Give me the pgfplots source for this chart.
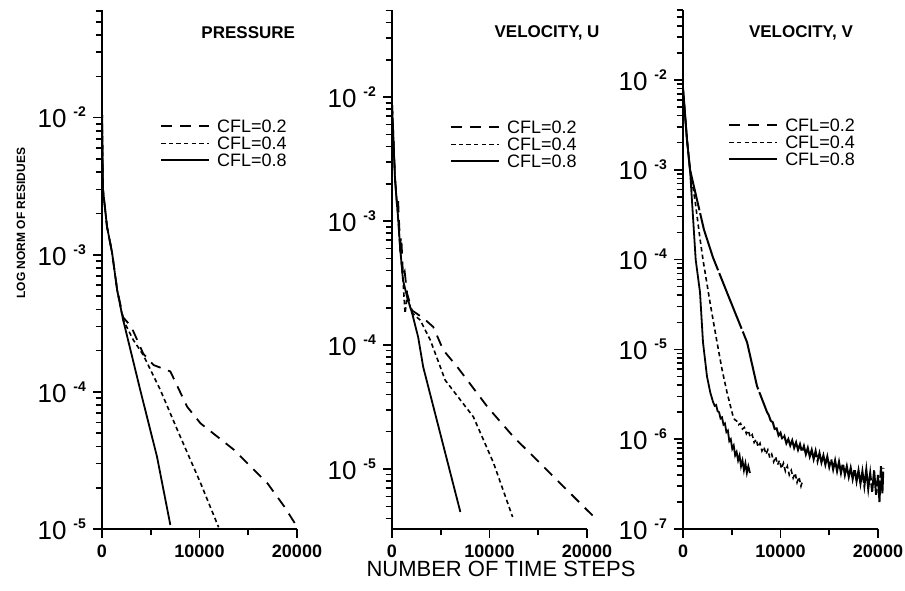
\documentclass[border=0pt]{standalone}
\usepackage{pgfplots}
\pgfplotsset{compat=1.18}
\usepackage{fontspec}
\setmainfont{Liberation Sans}

\newcommand{\ex}[1]{10\hspace{3.5pt}\raisebox{0.42em}{\fontsize{7}{7}\selectfont\bfseries -#1}}

\tikzset{
  c2/.style={line width=0.9pt, dash pattern=on 5.5pt off 4pt},
  c4/.style={line width=0.8pt, dash pattern=on 2.2pt off 1.6pt},
  c8/.style={line width=0.9pt},
}

\pgfplotsset{
  every axis/.append style={
    scale only axis, width=97.5pt, height=259.5pt,
    xmin=0, xmax=20000,
    axis lines*=left, axis line style={line width=1pt},
    tick align=outside, tick style={line width=0.8pt, black},
    major tick length=4.5pt, minor tick length=3.2pt,
    xtick={0,10000,20000}, xticklabels={0,10000,20000},
    minor xtick={5000,15000},
    scaled x ticks=false,
    xticklabel style={font=\fontsize{9}{9}\selectfont\bfseries},
    yticklabel style={font=\fontsize{13}{13}\selectfont},
    clip=false,
    legend style={draw=none, fill=none, font=\fontsize{9}{9}\selectfont, anchor=north west, row sep=0pt, inner sep=0pt,
      nodes={inner sep=1pt, text height=6.5pt, text depth=0pt}},
    legend cell align=left,
  },
  legend image code/.code={\draw[#1] (0pt,0pt) -- (24pt,0pt); \path (26.5pt,0pt);},
}

\begin{document}
\begin{tikzpicture}
\path[use as bounding box] (0,0) rectangle (452.5pt,295pt);

% ---------------- PRESSURE ----------------
\begin{axis}[ymode=log, at={(51pt,30.5pt)}, anchor=south west,
  ymin=1e-5, ymax=6.1e-2,
  ytick={1e-5,1e-4,1e-3,1e-2}, yticklabels={\ex{5},\ex{4},\ex{3},\ex{2}},
  minor ytick={2e-5,3e-5,4e-5,5e-5,6e-5,7e-5,8e-5,9e-5,2e-4,3e-4,4e-4,5e-4,6e-4,7e-4,8e-4,9e-4,2e-3,3e-3,4e-3,5e-3,6e-3,7e-3,8e-3,9e-3,2e-2,3e-2,4e-2,5e-2,6e-2},
  legend style={at={(axis description cs:0.297,0.793)}},
]
\addlegendimage{c2}\addlegendentry{CFL=0.2}
\addlegendimage{c4}\addlegendentry{CFL=0.4}
\addlegendimage{c8}\addlegendentry{CFL=0.8}
\addplot[c2, forget plot] coordinates {(0,1.2e-2) (100,3.0e-3) (515,1.6e-3) (1030,1.04e-3) (1550,5.6e-4) (2165,3.5e-4) (2990,3.0e-4) (3600,2.4e-4) (4230,1.9e-4) (5290,1.57e-4) (7010,1.41e-4) (8730,7.8e-5) (10100,5.9e-5) (13540,3.78e-5) (16980,2.15e-5) (18690,1.46e-5) (20000,1.04e-5)};
\addplot[c4, forget plot] coordinates {(0,1.2e-2) (100,3.0e-3) (515,1.6e-3) (1030,1.04e-3) (1550,5.56e-4) (2165,3.36e-4) (3200,2.4e-4) (4230,1.86e-4) (5980,1.035e-4) (7730,5.28e-5) (10100,2.17e-5) (11960,1.03e-5)};
\addplot[c8, forget plot] coordinates {(0,1.2e-2) (100,3.0e-3) (515,1.6e-3) (1030,1.04e-3) (1550,5.56e-4) (2165,3.36e-4) (3918,1.035e-4) (5640,3.37e-5) (7010,1.07e-5)};
\node[font=\fontsize{8.5}{8.5}\selectfont\bfseries] at (axis description cs:0.75,0.956) {PRESSURE};
\end{axis}

% ---------------- VELOCITY U ----------------
\begin{axis}[ymode=log, at={(196pt,30.5pt)}, anchor=south west,
  ymin=3.28e-6, ymax=5.04e-2,
  ytick={1e-5,1e-4,1e-3,1e-2}, yticklabels={\ex{5},\ex{4},\ex{3},\ex{2}},
  minor ytick={4e-6,5e-6,6e-6,7e-6,8e-6,9e-6,2e-5,3e-5,4e-5,5e-5,6e-5,7e-5,8e-5,9e-5,2e-4,3e-4,4e-4,5e-4,6e-4,7e-4,8e-4,9e-4,2e-3,3e-3,4e-3,5e-3,6e-3,7e-3,8e-3,9e-3,2e-2,3e-2,4e-2,5e-2},
  legend style={at={(axis description cs:0.297,0.791)}},
]
\addlegendimage{c2}\addlegendentry{CFL=0.2}
\addlegendimage{c4}\addlegendentry{CFL=0.4}
\addlegendimage{c8}\addlegendentry{CFL=0.8}
\addplot[c2, forget plot] coordinates {(0,9e-3) (310,2.3e-3) (520,1.3e-3) (620,1.5e-3) (825,6.5e-4) (950,7.5e-4) (1130,3.6e-4) (1300,3.9e-4) (1550,2.6e-4) (2060,1.9e-4) (3200,1.65e-4) (4230,1.4e-4) (5260,9.1e-5) (6700,6.65e-5) (7730,5.2e-5) (9800,3.16e-5) (12480,1.81e-5) (15570,1.04e-5) (20720,4.1e-6)};
\addplot[c4, forget plot] coordinates {(0,9e-3) (310,2.14e-3) (620,1.08e-3) (825,6.17e-4) (1130,3.34e-4) (1340,1.8e-4) (1550,2.44e-4) (2060,1.81e-4) (2890,1.59e-4) (3920,1.1e-4) (5460,5.2e-5) (8350,2.63e-5) (10410,1.12e-5) (12370,4.1e-6)};
\addplot[c8, forget plot] coordinates {(0,9e-3) (310,2.14e-3) (620,1.08e-3) (825,6.17e-4) (1130,3.34e-4) (1550,2.44e-4) (2060,1.81e-4) (2680,1.16e-4) (3200,6.65e-5) (7010,4.5e-6)};
\node[font=\fontsize{8.5}{8.5}\selectfont\bfseries] at (axis description cs:0.795,0.956) {VELOCITY, U};
\end{axis}

% ---------------- VELOCITY V ----------------
\begin{axis}[ymode=log, at={(341.5pt,30.5pt)}, anchor=south west,
  ymin=1e-7, ymax=6.0e-2,
  ytick={1e-7,1e-6,1e-5,1e-4,1e-3,1e-2}, yticklabels={\ex{7},\ex{6},\ex{5},\ex{4},\ex{3},\ex{2}},
  minor ytick={2e-7,3e-7,4e-7,5e-7,6e-7,7e-7,8e-7,9e-7,2e-6,3e-6,4e-6,5e-6,6e-6,7e-6,8e-6,9e-6,2e-5,3e-5,4e-5,5e-5,6e-5,7e-5,8e-5,9e-5,2e-4,3e-4,4e-4,5e-4,6e-4,7e-4,8e-4,9e-4,2e-3,3e-3,4e-3,5e-3,6e-3,7e-3,8e-3,9e-3,2e-2,3e-2,4e-2,5e-2,6e-2},
  legend style={at={(axis description cs:0.231,0.795)}},
]
\addlegendimage{c2}\addlegendentry{CFL=0.2}
\addlegendimage{c4}\addlegendentry{CFL=0.4}
\addlegendimage{c8}\addlegendentry{CFL=0.8}
\addplot[line width=1pt, dash pattern=on 30pt off 1.5pt, forget plot] coordinates {(0,8e-3) (410,2.15e-3) (720,1.0e-3) (1440,4.6e-4) (2150,2.15e-4) (3080,1.05e-4) (4510,4.3e-5) (6570,1.2e-5) (7590,3.9e-6) (8620,2.0e-6)
 (8800,1.85e-6) (9000,1.6e-6) (9200,1.55e-6) (9400,1.3e-6) (9600,1.32e-6) (9800,1.1e-6) (10000,1.18e-6) (10200,0.98e-6) (10400,1.08e-6) (10600,0.9e-6) (10800,1.0e-6) (11000,0.85e-6) (11200,0.97e-6) (11400,0.8e-6) (11600,0.92e-6) (11800,0.76e-6) (12000,0.88e-6) (12200,0.72e-6) (12400,0.84e-6) (12600,0.68e-6) (12800,0.8e-6) (13000,0.64e-6) (13200,0.76e-6) (13400,0.6e-6) (13600,0.74e-6) (13800,0.57e-6) (14000,0.7e-6) (14200,0.55e-6) (14400,0.66e-6) (14600,0.52e-6) (14800,0.64e-6) (15000,0.49e-6) (15200,0.6e-6) (15400,0.46e-6) (15600,0.58e-6) (15800,0.44e-6) (16000,0.56e-6) (16200,0.42e-6) (16400,0.54e-6) (16600,0.4e-6) (16800,0.5e-6) (17000,0.38e-6) (17200,0.48e-6) (17400,0.36e-6) (17600,0.47e-6) (17800,0.34e-6) (18000,0.45e-6) (18200,0.32e-6) (18400,0.44e-6) (18600,0.3e-6) (18800,0.46e-6) (19000,0.28e-6) (19200,0.42e-6) (19400,0.26e-6) (19600,0.45e-6) (19800,0.24e-6) (20000,0.4e-6) (20150,0.2e-6) (20300,0.5e-6) (20450,0.25e-6) (20550,0.48e-6)};
\addplot[c4, forget plot] coordinates {(0,8e-3) (410,2.15e-3) (720,1.0e-3) (1230,4.6e-4) (1745,1.7e-4) (2050,1.0e-4) (2770,3.33e-5) (3490,1.2e-5) (4000,6.0e-6) (4510,3.33e-6) (5130,1.8e-6)
 (5300,1.65e-6) (5500,1.6e-6) (5700,1.45e-6) (5900,1.5e-6) (6100,1.3e-6) (6300,1.35e-6) (6500,1.15e-6) (6700,1.25e-6) (6900,1.05e-6) (7100,1.12e-6) (7300,0.92e-6) (7500,1.0e-6) (7700,0.82e-6) (7900,0.9e-6) (8100,0.74e-6) (8300,0.82e-6) (8500,0.68e-6) (8700,0.76e-6) (8900,0.62e-6) (9100,0.68e-6) (9300,0.56e-6) (9500,0.64e-6) (9700,0.52e-6) (9900,0.58e-6) (10100,0.47e-6) (10300,0.54e-6) (10500,0.44e-6) (10700,0.5e-6) (10900,0.4e-6) (11100,0.45e-6) (11300,0.37e-6) (11500,0.42e-6) (11700,0.33e-6) (11900,0.38e-6) (12100,0.3e-6) (12250,0.34e-6)};
\addplot[c8, forget plot] coordinates {(0,8e-3) (410,2.15e-3) (720,1.0e-3) (1000,3.3e-4) (1300,1.0e-4) (1745,4.3e-5) (2050,1.2e-5) (2460,5.0e-6) (2800,3.3e-6) (3080,2.6e-6)
 (3250,2.35e-6) (3400,2.4e-6) (3550,2.05e-6) (3700,2.0e-6) (3850,1.7e-6) (4000,1.75e-6) (4150,1.45e-6) (4300,1.5e-6) (4450,1.2e-6) (4600,1.25e-6) (4750,0.95e-6) (4900,1.0e-6) (5050,0.78e-6) (5200,0.85e-6) (5350,0.66e-6) (5500,0.72e-6) (5650,0.58e-6) (5800,0.66e-6) (5950,0.5e-6) (6100,0.58e-6) (6250,0.45e-6) (6400,0.54e-6) (6550,0.42e-6) (6700,0.5e-6) (6870,0.42e-6)};
\node[font=\fontsize{8.5}{8.5}\selectfont\bfseries] at (axis description cs:0.605,0.956) {VELOCITY, V};
\end{axis}

\node[rotate=90, font=\fontsize{6}{6}\selectfont\bfseries] at (10.5pt,183.5pt) {LOG NORM OF RESIDUES};
\node[font=\fontsize{11}{11}\selectfont] at (250.5pt,10.5pt) {NUMBER OF TIME STEPS};
\end{tikzpicture}
\end{document}
